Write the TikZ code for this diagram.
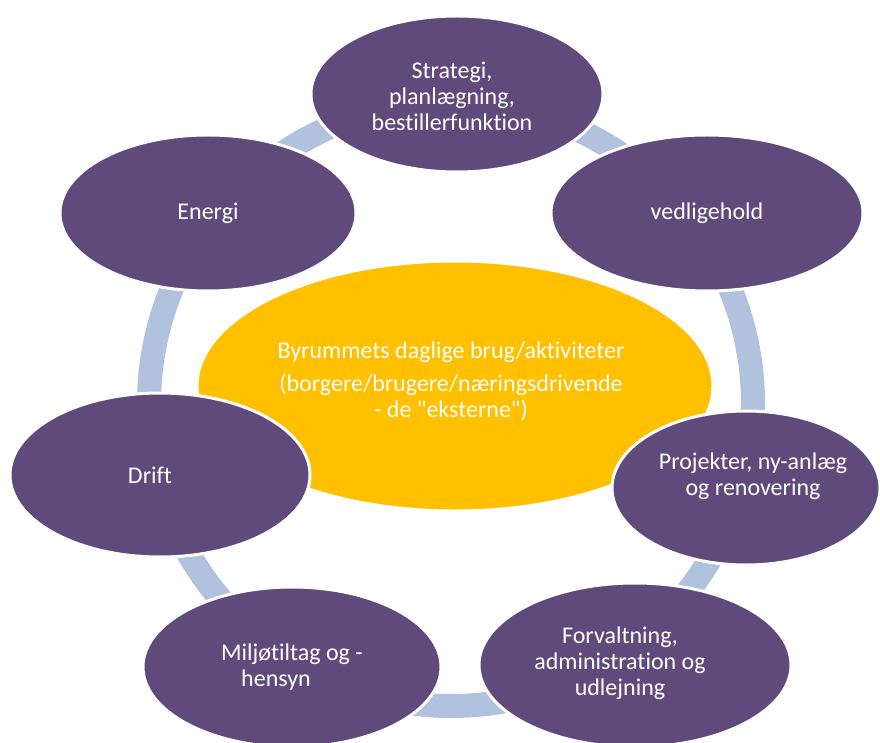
\documentclass[tikz,border=0pt]{standalone}
\usepackage{fontspec}
\setmainfont{Carlito}[Ligatures={TeXOff,NoCommon}]
\usetikzlibrary{shapes.geometric}
\definecolor{ringblue}{HTML}{B0C2DD}
\definecolor{purp}{HTML}{604A7B}
\definecolor{gold}{HTML}{FFC000}
\tikzset{
  txt/.style={text=white, align=center, font=\fontsize{24}{26}\selectfont},
  petal/.style={ellipse, fill=purp, draw=white, line width=3pt, inner sep=0pt, txt},
  hub/.style={ellipse, fill=gold, draw=white, line width=3pt, inner sep=0pt, txt},
}
\begin{document}
\begin{tikzpicture}[x=1pt,y=-1pt]
\useasboundingbox (0,0) rectangle (880,743);
\fill[white] (0,0) rectangle (880,743);
\coordinate (ringc) at (451,404);
\draw[ringblue, line width=24pt] (ringc) circle[radius=302];
\node[hub, minimum width=516, minimum height=250] (center) at (455,386) {};
\node[txt] (centertext) at (451,381)
  {Byrummets daglige brug/aktiviteter\\[7pt](borgere/brugere/næringsdrivende\\- de "eksterne")};
\node[petal, minimum width=292, minimum height=156] (strat) at (457,94) {};
\node[txt] (strattext) at (452,96) {Strategi,\\planlægning,\\bestillerfunktion};
\node[petal, minimum width=312, minimum height=156] (vedl) at (707,213) {vedligehold};
\node[petal, minimum width=296, minimum height=156] (energ) at (208,213) {Energi};
\node[petal, minimum width=300, minimum height=164] (drift) at (160,475) {};
\node[txt] (drifttext) at (150,475) {Drift};
\node[petal, minimum width=268, minimum height=154] (proj) at (746,488) {};
\node[txt] (projtext) at (753,476) {Projekter, ny-anlæg\\og renovering};
\node[petal, minimum width=298, minimum height=160] (milj) at (292,667) {};
\node[txt] (miljtext) at (292,667) {Miljøtiltag og -\\hensyn\hspace*{32pt}};
\node[petal, minimum width=312, minimum height=164] (forv) at (635,665) {};
\node[txt] (forvtext) at (620,663) {Forvaltning,\\administration og\\udlejning};
\end{tikzpicture}
\end{document}
